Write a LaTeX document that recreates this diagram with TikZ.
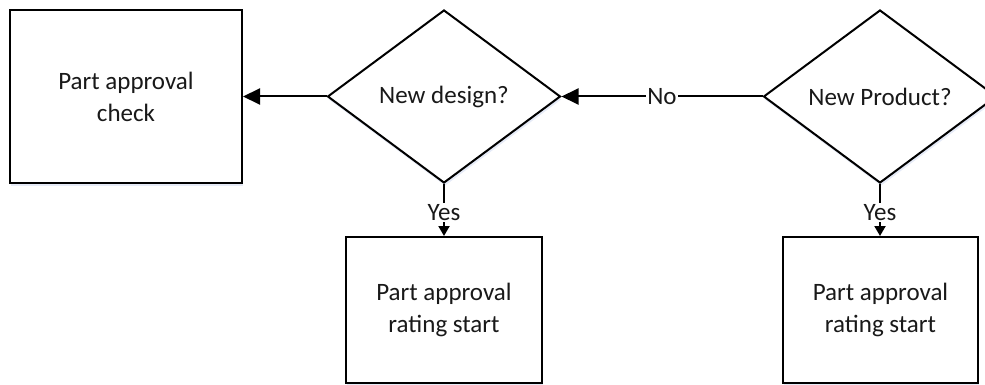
\documentclass[tikz,border=0pt]{standalone}
\usepackage{fontspec}
\setmainfont{Carlito}
\usetikzlibrary{shapes.geometric,arrows.meta,shadows}
\begin{document}
\begin{tikzpicture}[x=1pt,y=-1pt,
  every node/.style={font=\fontsize{25}{32}\selectfont, text=black!90},
  soft/.style={drop shadow={shadow xshift=1pt, shadow yshift=-3pt, fill=cyan!40!blue!40, opacity=0.25}},
  procbox/.style={draw, line width=2pt, fill=white, soft, align=center, inner sep=0pt},
  decision/.style={draw, diamond, line width=2pt, fill=white, soft, align=center, inner sep=0pt,
    minimum width=233pt, minimum height=173pt},
  flow/.style={line width=2pt, -{Triangle[length=17pt,width=16pt]}},
  flowdown/.style={line width=2pt, -{Triangle[length=10pt,width=11pt]}},
  tag/.style={fill=white, inner sep=1pt}
]
\useasboundingbox (0,0) rectangle (985,385);
\clip (0,0) rectangle (985,385);

% shapes
\node[procbox, minimum width=232pt, minimum height=173pt] (check) at (126,96.5) {Part approval\\check};
\node[decision] (design) at (444,96.5) {New design?};
\node[decision] (product) at (880,96.5) {New Product?};
\node[procbox, minimum width=196pt, minimum height=146pt] (rateA) at (444,310) {Part approval\\rating start};
\node[procbox, minimum width=195pt, minimum height=146pt] (rateB) at (880.5,310) {Part approval\\rating start};

% connectors
\draw[flow] (design.west) -- (check.east);
\draw[flow] (product.west) -- node[tag, pos=0.5] {No} (design.east);
\draw[flowdown] (design.south) -- node[tag, pos=0.55] {Yes} (rateA.north);
\draw[flowdown] (product.south) -- node[tag, pos=0.55] {Yes} (product.south |- rateB.north);
\end{tikzpicture}
\end{document}
